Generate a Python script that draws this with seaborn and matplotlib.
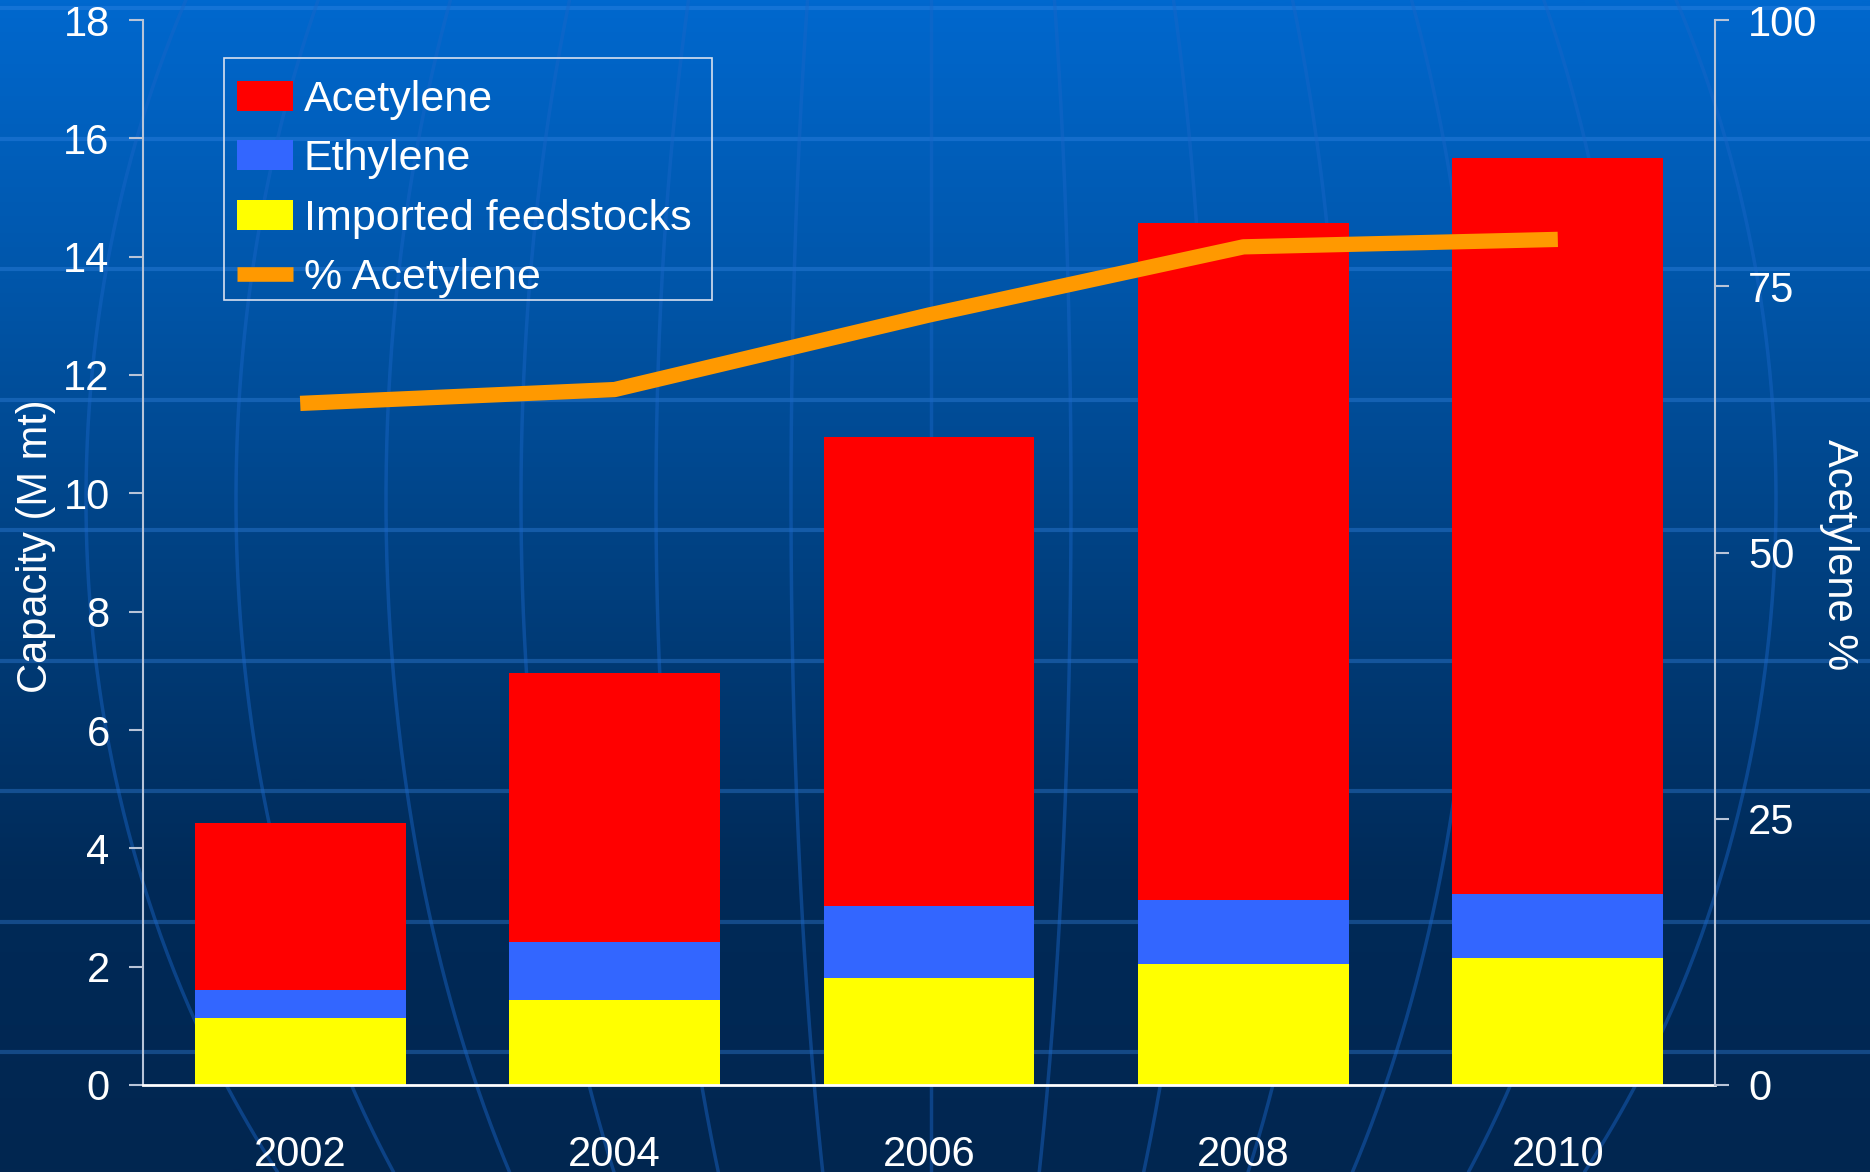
import numpy as np
import pandas as pd
import matplotlib
matplotlib.use("Agg")
import matplotlib.pyplot as plt
import seaborn as sns
from matplotlib.colors import LinearSegmentedColormap
from matplotlib.patches import Patch, Rectangle
from matplotlib.lines import Line2D

# data
years = ["2002", "2004", "2006", "2008", "2010"]
imported = [1.13, 1.43, 1.81, 2.05, 2.15]
ethylene = [0.47, 0.99, 1.22, 1.07, 1.07]
acetylene = [2.83, 4.55, 7.93, 11.45, 12.44]
pct_acetylene = [64.0, 65.3, 72.3, 78.7, 79.4]

left_ticks = [0, 2, 4, 6, 8, 10, 12, 14, 16, 18]
right_ticks = [0, 25, 50, 75, 100]

RED = "#FF0000"
BLUE = "#3366FF"
YELLOW = "#FFFF00"
ORANGE = "#FF9900"
AXIS_GREY = "#B8C4D8"

sns.set_theme(style="white")
plt.rcParams["font.family"] = ["Liberation Sans", "DejaVu Sans"]

df = pd.DataFrame({"year": years, "imported": imported,
                   "ethylene": ethylene, "acetylene": acetylene,
                   "pct": pct_acetylene})
df["lvl1"] = df["imported"]
df["lvl2"] = df["lvl1"] + df["ethylene"]
df["lvl3"] = df["lvl2"] + df["acetylene"]

W, H = 1870, 1172
fig = plt.figure(figsize=(W / 100, H / 100), dpi=100)

# background: blue gradient, straight "latitude" lines and curved "meridians"
bg = fig.add_axes([0, 0, 1, 1], zorder=-10)
grad = np.linspace(0, 1, 512)[:, None]
cmap = LinearSegmentedColormap.from_list("bg", ["#0068CE", "#0055A8", "#003F7E", "#002A58", "#022650"])
bg.imshow(grad, aspect="auto", cmap=cmap, extent=[0, W, H, 0])
for ypx in [8, 139, 269, 400, 530, 661, 791, 922, 1052]:
    bg.axhline(ypx, color="#3a8ae8", alpha=0.35, lw=3)
gy = np.linspace(0, H, 200)
profile = np.sqrt(1 - ((gy - 500) / 1060) ** 2)
for d in [-845, -695, -545, -410, -275, -140, 0, 140, 275, 410, 545, 695, 845]:
    bg.plot(931 + d * profile, gy, color="#1a66c8", alpha=0.45, lw=2.5)
bg.set_xlim(0, W)
bg.set_ylim(H, 0)
bg.axis("off")

# main chart
ax = fig.add_axes([143 / W, 1 - 1085 / H, (1715 - 143) / W, (1085 - 20) / H])
ax.set_facecolor("none")
for col, color in [("lvl3", RED), ("lvl2", BLUE), ("lvl1", YELLOW)]:
    sns.barplot(data=df, x="year", y=col, order=years, color=color,
                saturation=1, width=0.67, linewidth=0, ax=ax)

ax.set_xlim(-0.5, 4.5)
ax.set_ylim(0, 18)
ax.set_yticks(left_ticks)
ax.set_xlabel("")
ax.set_ylabel("")
ax.set_xticks(range(len(years)))
ax.set_xticklabels(years)
ax.set_xticks(np.arange(-0.5, 5.0, 1.0), minor=True)
ax.tick_params(axis="x", which="major", length=0, pad=36, labelsize=30, labelcolor="white")
ax.tick_params(axis="x", which="minor", length=9, width=1.5, color="white", direction="out")
ax.tick_params(axis="y", length=10, width=1.5, color=AXIS_GREY, direction="out",
               pad=14, labelsize=30, labelcolor="white", left=True)
for s in ["top", "right"]:
    ax.spines[s].set_visible(False)
ax.spines["left"].set_color(AXIS_GREY)
ax.spines["left"].set_linewidth(1.5)
ax.spines["bottom"].set_color("white")
ax.spines["bottom"].set_linewidth(2)

ax2 = ax.twinx()
sns.lineplot(x=np.arange(len(years)), y=df["pct"], color=ORANGE, lw=11,
             solid_capstyle="butt", ax=ax2)
ax2.set_ylim(0, 100)
ax2.set_yticks(right_ticks)
ax2.set_ylabel("")
ax2.tick_params(axis="y", length=10, width=1.5, color=AXIS_GREY, direction="out",
                pad=14, labelsize=30, labelcolor="white", right=True)
for s in ["top", "left", "bottom"]:
    ax2.spines[s].set_visible(False)
ax2.spines["right"].set_color(AXIS_GREY)
ax2.spines["right"].set_linewidth(1.5)

# legend: entries without frame, box drawn separately
handles = [Patch(facecolor=RED, edgecolor="none"),
           Patch(facecolor=BLUE, edgecolor="none"),
           Patch(facecolor=YELLOW, edgecolor="none"),
           Line2D([0], [0], color=ORANGE, lw=10.5, solid_capstyle="butt")]
labels = ["Acetylene", "Ethylene", "Imported feedstocks", "% Acetylene"]
leg = ax2.legend(handles, labels, loc="upper left", bbox_to_anchor=(237 / W, 1 - 80 / H),
                 bbox_transform=fig.transFigure, borderaxespad=0, fontsize=31,
                 frameon=False, handlelength=1.3, handleheight=0.7,
                 handletextpad=0.25, labelspacing=0.45, borderpad=0)
for t in leg.get_texts():
    t.set_color("white")
fig.patches.append(Rectangle((224 / W, 1 - 300 / H), (712 - 224) / W, (300 - 58) / H,
                             transform=fig.transFigure, fill=False,
                             edgecolor="#D8E0F0", lw=1.2, zorder=5))

fig.text(36 / W, 1 - 546 / H, "Capacity (M mt)", rotation=90, ha="center", va="center",
         fontsize=30, color="white")
fig.text(1839 / W, 1 - 555 / H, "Acetylene %", rotation=270, ha="center", va="center",
         fontsize=30, color="white")

fig.savefig("out.png", dpi=100)
